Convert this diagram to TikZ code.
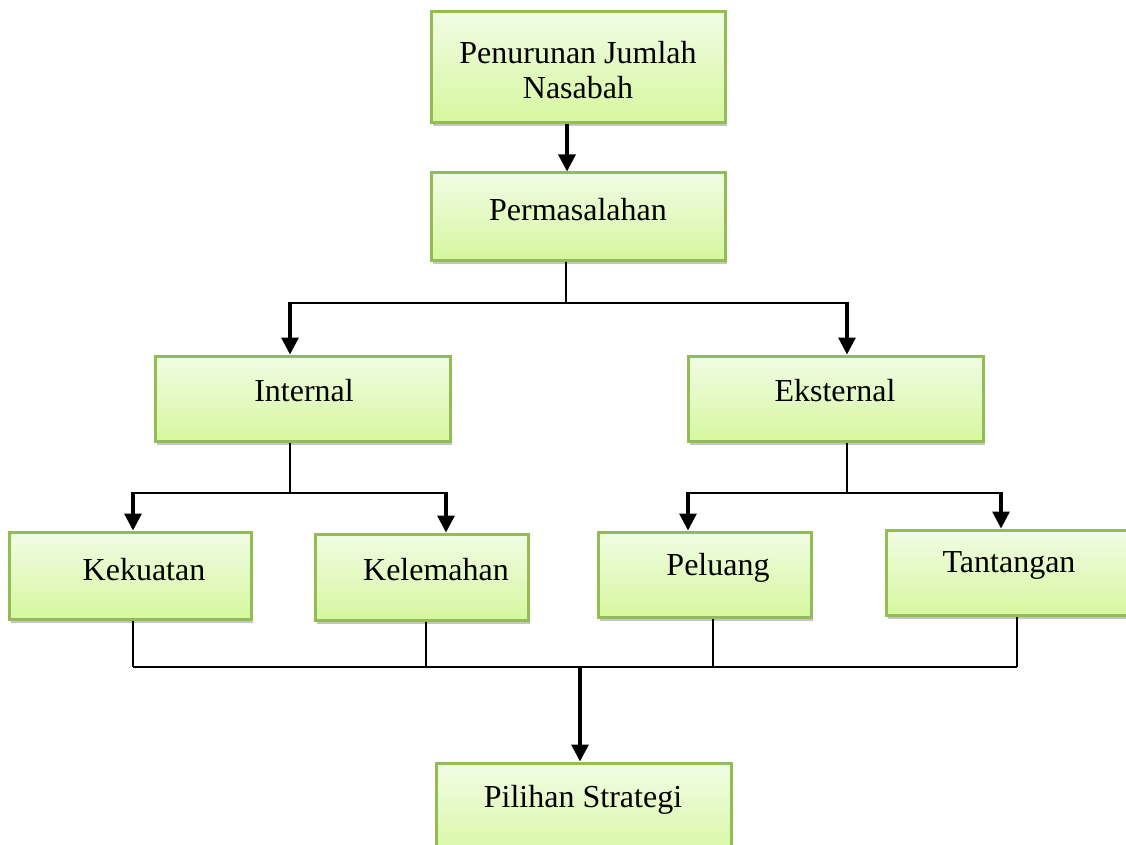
\documentclass[tikz,border=0pt]{standalone}
\usepackage{fontspec}
\setmainfont{Liberation Serif}
\usetikzlibrary{arrows.meta,shadows,calc}
\definecolor{boxborder}{RGB}{146,188,84}
\definecolor{boxtop}{RGB}{241,252,229}
\definecolor{boxbot}{RGB}{214,247,158}
\tikzset{
  box/.style={rectangle, draw=boxborder, line width=3pt, top color=boxtop, bottom color=boxbot,
    drop shadow={shadow xshift=2pt, shadow yshift=-3.5pt, fill=black!45, opacity=0.5}, inner sep=0pt},
  lbl/.style={font=\fontsize{32}{38}\selectfont, align=center, inner sep=0pt},
  arr/.style={line width=3.2pt, -{Triangle[width=17pt,length=17pt]}},
  ln/.style={line width=2.3pt},
}
\begin{document}
\begin{tikzpicture}[x=1pt,y=-1pt]
\useasboundingbox (0,0) rectangle (1126,845);
\clip (0,0) rectangle (1126,845);
\fill[white] (0,0) rectangle (1126,845);
% boxes
\node[box, minimum width=294pt, minimum height=111pt] (A) at (578,67.5) {};
\node[box, minimum width=294pt, minimum height=87pt] (B) at (578,216.5) {};
\node[box, minimum width=295pt, minimum height=85pt] (C) at (302.5,398.5) {};
\node[box, minimum width=295pt, minimum height=85pt] (D) at (835.5,398.5) {};
\node[box, minimum width=242pt, minimum height=87pt] (E) at (130,575.5) {};
\node[box, minimum width=213pt, minimum height=86pt] (F) at (421.5,577) {};
\node[box, minimum width=213pt, minimum height=85pt] (G) at (704.5,574.5) {};
\node[box, minimum width=250pt, minimum height=85pt] (H) at (1011,572.5) {};
\node[box, minimum width=295pt, minimum height=100pt] (I) at (583.5,813) {};
% texts
\node[lbl] (tA) at (578,70) {Penurunan Jumlah\\[-3pt]Nasabah};
\node[lbl] (tB) at (578,210) {Permasalahan};
\node[lbl] (tC) at (304,391) {Internal};
\node[lbl] (tD) at (835,391) {Eksternal};
\node[lbl] (tE) at (144,570) {Kekuatan};
\node[lbl] (tF) at (436,570) {Kelemahan};
\node[lbl] (tG) at (718,568) {Peluang};
\node[lbl] (tH) at (1009,565) {Tantangan};
\node[lbl] (tI) at (583,800) {Pilihan Strategi};
% junction coordinates
\coordinate (xA) at (567,0);
\coordinate (jB) at (566,303);
\coordinate (jBl) at (290,303);
\coordinate (jBr) at (847,303);
\coordinate (jC) at (290,493);
\coordinate (jCl) at (133,493);
\coordinate (jCr) at (446,493);
\coordinate (jD) at (847,493);
\coordinate (jDl) at (688,493);
\coordinate (jDr) at (1001,493);
\coordinate (bE) at (133,667);
\coordinate (bF) at (426,667);
\coordinate (bG) at (713,667);
\coordinate (bH) at (1017,667);
\coordinate (bM) at (580,667);
% connectors
\draw[arr] (A.south -| xA) -- (B.north -| xA);
\draw[ln] (B.south -| jB) -- (jB);
\draw[ln] (jBl) -- (jBr);
\draw[arr] ([yshift=1pt]jBl) -- (C.north -| jBl);
\draw[arr] ([yshift=1pt]jBr) -- (D.north -| jBr);
\draw[ln] (C.south -| jC) -- (jC);
\draw[ln] (jCl) -- (jCr);
\draw[arr] ([yshift=1pt]jCl) -- (E.north -| jCl);
\draw[arr] ([yshift=1pt]jCr) -- (F.north -| jCr);
\draw[ln] (D.south -| jD) -- (jD);
\draw[ln] (jDl) -- (jDr);
\draw[arr] ([yshift=1pt]jDl) -- (G.north -| jDl);
\draw[arr] ([yshift=1pt]jDr) -- (H.north -| jDr);
\draw[ln] (E.south -| bE) -- (bE);
\draw[ln] (F.south -| bF) -- (bF);
\draw[ln] (G.south -| bG) -- (bG);
\draw[ln] (H.south -| bH) -- (bH);
\draw[ln] (bE) -- (bH);
\draw[arr] (bM) -- (I.north -| bM);
\end{tikzpicture}
\end{document}
